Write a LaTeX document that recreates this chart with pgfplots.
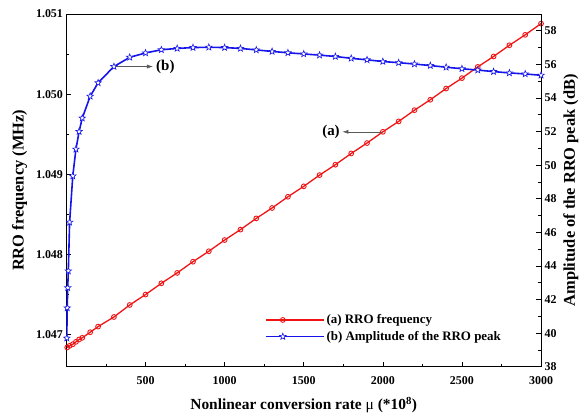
\documentclass[border=0pt]{standalone}
\usepackage{fontspec}
\setmainfont{Liberation Serif}
\usepackage{pgfplots}
\pgfplotsset{compat=1.18}
\usetikzlibrary{arrows.meta}

% open five-pointed star
\pgfdeclareplotmark{ostar}{%
  \pgfpathmoveto{\pgfpointpolar{90}{\pgfplotmarksize}}%
  \pgfpathlineto{\pgfpointpolar{126}{0.42\pgfplotmarksize}}%
  \pgfpathlineto{\pgfpointpolar{162}{\pgfplotmarksize}}%
  \pgfpathlineto{\pgfpointpolar{198}{0.42\pgfplotmarksize}}%
  \pgfpathlineto{\pgfpointpolar{234}{\pgfplotmarksize}}%
  \pgfpathlineto{\pgfpointpolar{270}{0.42\pgfplotmarksize}}%
  \pgfpathlineto{\pgfpointpolar{306}{\pgfplotmarksize}}%
  \pgfpathlineto{\pgfpointpolar{342}{0.42\pgfplotmarksize}}%
  \pgfpathlineto{\pgfpointpolar{18}{\pgfplotmarksize}}%
  \pgfpathlineto{\pgfpointpolar{54}{0.42\pgfplotmarksize}}%
  \pgfpathclose
  \pgfusepathqfillstroke
}

\definecolor{rroRed}{RGB}{240,20,20}
\definecolor{rroBlue}{RGB}{20,20,235}

\pgfplotstableread{
x y
5 1.04684
20 1.04686
40 1.04688
60 1.04691
80 1.04694
100 1.04696
150 1.04703
200 1.04710
300 1.04722
400 1.04737
500 1.04750
600 1.04764
700 1.04777
800 1.04791
900 1.04804
1000 1.04818
1100 1.04831
1200 1.04845
1300 1.04858
1400 1.04872
1500 1.04885
1600 1.04899
1700 1.04912
1800 1.04926
1900 1.04939
2000 1.04953
2100 1.04966
2200 1.04980
2300 1.04993
2400 1.05007
2500 1.05020
2600 1.05034
2700 1.05047
2800 1.05061
2900 1.05074
3000 1.05088
}\freqdata

\pgfplotstableread{
x y
2 39.7
5 41.5
8 42.7
12 43.7
20 46.6
40 49.35
60 50.95
80 52.0
100 52.8
150 54.1
200 54.9
300 55.87
400 56.42
500 56.68
600 56.87
700 56.95
800 57.00
900 57.02
1000 57.00
1100 56.95
1200 56.86
1300 56.77
1400 56.69
1500 56.62
1600 56.55
1700 56.47
1800 56.36
1900 56.27
2000 56.17
2100 56.10
2200 56.02
2300 55.93
2400 55.83
2500 55.74
2600 55.66
2700 55.57
2800 55.49
2900 55.43
3000 55.35
}\ampdata

\begin{document}
\begin{tikzpicture}
\pgfplotsset{
  every axis/.append style={
    scale only axis, width=475bp, height=353bp,
    xmin=0, xmax=3000,
    tick align=inside,
    major tick length=5bp, minor tick length=3bp,
    tick style={black, line width=0.6bp},
    axis line style={line width=0.8bp},
    tick label style={font=\bfseries\fontsize{12}{14}\selectfont},
    label style={font=\bfseries\fontsize{15.5}{17}\selectfont},
    /pgf/number format/assume math mode=true,
    /pgf/number format/1000 sep={},
  },
}
\begin{axis}[
  ymin=1.0466, ymax=1.051,
  xtick={500,1000,1500,2000,2500,3000},
  minor xtick={250,750,1250,1750,2250,2750},
  xtick pos=bottom,
  xticklabel style={yshift=-6bp},
  ytick={1.047,1.048,1.049,1.050,1.051},
  yticklabels={1.047,1.048,1.049,1.050,1.051},
  minor ytick={1.0475,1.0485,1.0495,1.0505},
  ytick pos=left,
  xlabel={Nonlinear conversion rate {\mdseries μ} (*10\textsuperscript{8})},
  xlabel style={yshift=-6bp},
  ylabel={RRO frequency (MHz)},
  ylabel style={yshift=2bp, font=\bfseries\fontsize{16.5}{18}\selectfont},
]
\addplot[rroRed, line width=1.3bp, mark=o, mark size=2.4bp,
  mark options={line width=0.9bp}] table[x=x, y=y] {\freqdata};
\draw[gray!70!black, line width=0.5bp, -{Latex[length=6bp, width=4bp]}]
  (axis cs:2000,1.04953) -- (axis cs:1745,1.04953);
\node[anchor=east, inner sep=1bp, font=\bfseries\fontsize{15}{17}\selectfont]
  at (axis cs:1735,1.04953) {(a)};
\coordinate (bl) at (rel axis cs:0,0);
\coordinate (tr) at (rel axis cs:1,1);
\end{axis}
\begin{axis}[
  axis x line=none,
  axis y line*=right,
  tick align=inside,
  ymin=38, ymax=59,
  ytick={38,40,42,44,46,48,50,52,54,56,58},
  minor ytick={39,41,43,45,47,49,51,53,55,57},
  ylabel={Amplitude of the RRO peak (dB)},
  ylabel style={font=\bfseries\fontsize{16.5}{18}\selectfont},
  legend style={at={(0.418,0.109)}, anchor=west, draw=none, fill=none,
    inner sep=0pt, row sep=2bp,
    font=\bfseries\fontsize{13}{15}\selectfont},
  legend cell align=left,
  legend image code/.code={%
    \path (0bp,0bp) -- (58bp,0bp);
    \draw[mark repeat=2, mark phase=2, #1]
      plot coordinates {(0bp,0bp) (17bp,0bp) (34bp,0bp)};},
]
\addlegendimage{rroRed, line width=1.3bp, mark=o, mark size=2.4bp,
  mark options={line width=0.9bp}}
\addlegendentry{(a) RRO frequency}
\addplot[rroBlue, line width=1.6bp, mark=ostar, mark size=3.4bp,
  mark options={fill=white, line width=0.6bp}] table[x=x, y=y] {\ampdata};
\addlegendentry{(b) Amplitude of the RRO peak}
\draw[gray!70!black, line width=0.5bp, -{Latex[length=6bp, width=4bp]}]
  (axis cs:305,55.87) -- (axis cs:547,55.87);
\node[anchor=west, inner sep=1bp, font=\bfseries\fontsize{15}{17}\selectfont]
  at (axis cs:560,55.87) {(b)};
\end{axis}
\pgfresetboundingbox
\path[use as bounding box] ([shift={(-66.5bp,-51bp)}]bl) rectangle ([shift={(40bp,14bp)}]tr);
\end{tikzpicture}
\end{document}
